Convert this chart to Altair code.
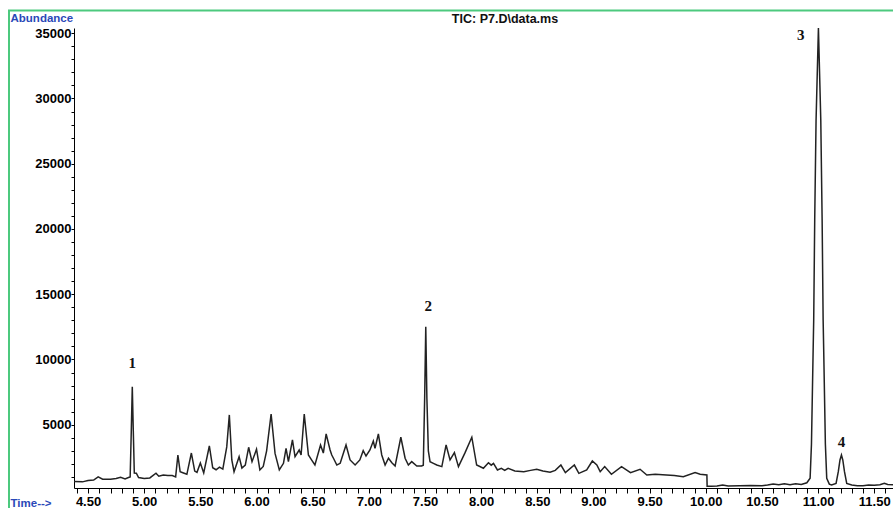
import altair as alt
import pandas as pd

# Retention time (min) and abundance
times = [
    4.375, 4.45, 4.50, 4.55, 4.59, 4.63, 4.70, 4.75, 4.79, 4.83, 4.86, 4.875, 4.885, 4.894, 4.903,
    4.912, 4.93, 4.95, 5.00, 5.05, 5.105, 5.13, 5.17, 5.21, 5.25, 5.28,
    5.30, 5.32, 5.35, 5.38, 5.42, 5.45, 5.47, 5.50, 5.53, 5.58, 5.61, 5.64, 5.67, 5.70, 5.735,
    5.758, 5.78, 5.80, 5.845, 5.87, 5.90, 5.93, 5.96, 6.00, 6.03, 6.06, 6.09, 6.13, 6.165, 6.203,
    6.24, 6.263, 6.284, 6.32, 6.343, 6.38, 6.397, 6.425, 6.462, 6.49, 6.52, 6.57, 6.595, 6.62,
    6.655, 6.67, 6.685, 6.715, 6.745, 6.797, 6.833, 6.878, 6.92, 6.95, 6.975, 7.01, 7.04, 7.055,
    7.085, 7.115, 7.145, 7.175, 7.205, 7.234, 7.285, 7.323, 7.352, 7.382, 7.427, 7.47, 7.485,
    7.497, 7.507, 7.517, 7.53, 7.545, 7.575, 7.605, 7.65, 7.688, 7.723, 7.762, 7.798, 7.857,
    7.917, 7.96, 8.02, 8.065, 8.09, 8.11, 8.145, 8.18, 8.21, 8.24, 8.30, 8.38, 8.44, 8.495, 8.55,
    8.614, 8.66, 8.71, 8.75, 8.83, 8.87, 8.94, 8.99, 9.03, 9.06, 9.10, 9.16, 9.25, 9.33, 9.415,
    9.475, 9.55, 9.65, 9.72, 9.80, 9.905, 9.95, 10.01, 10.012, 10.05, 10.10, 10.15, 10.20, 10.30,
    10.40, 10.50, 10.55, 10.60, 10.65, 10.70, 10.75, 10.80, 10.85, 10.90, 10.929, 10.941,
    10.956, 10.961, 10.970, 10.982, 11.003, 11.024, 11.036, 11.045, 11.050, 11.065, 11.077,
    11.10, 11.12, 11.16, 11.18, 11.195, 11.208, 11.22, 11.235, 11.255, 11.30, 11.35, 11.40,
    11.45, 11.50, 11.55, 11.59, 11.62, 11.667,
]
abundance = [
    640, 620, 720, 760, 1000, 820, 830, 880, 970, 850, 950, 1000, 4500, 7900, 4500,
    1300, 1280, 950, 880, 920, 1280, 1050, 1150, 1100, 1100, 1000,
    2680, 1400, 1300, 1200, 2830, 1450, 1350, 2070, 1300, 3370, 1700, 1550, 1750, 1600, 3300,
    5750, 2300, 1400, 2550, 1680, 1900, 3270, 2170, 3120, 1530, 1800, 3000, 5820, 2800, 1530,
    2040, 3190, 2170, 3830, 2550, 3060, 2680, 5820, 2680, 2300, 1910, 3450, 2830, 4290,
    3060, 2680, 2430, 1910, 2040, 3450, 2300, 1910, 2300, 3010, 2600, 3060, 3750, 3190,
    4290, 2680, 1910, 2430, 2090, 1840, 4040, 2430, 1910, 2170, 1840, 1840, 1900,
    7000, 12510, 7000, 3000, 2170, 2040, 1910, 1790, 3450, 2300, 2860, 1790, 2860,
    4040, 1910, 1660, 2090, 1900, 2040, 1530, 1660, 1500, 1660, 1455, 1400, 1500, 1585, 1450,
    1355, 1500, 1910, 1330, 1910, 1275, 1530, 2220, 1910, 1400, 1790, 1200, 1790, 1330, 1585,
    1150, 1200, 1150, 1100, 1020, 1330, 1200, 1150, 280, 280, 300, 380, 300, 330,
    340, 330, 380, 450, 400, 470, 400, 480, 420, 550, 900, 3500,
    10720, 13020, 20680, 28340, 35400, 28340, 20680, 13020, 10720, 3500, 900,
    450, 380, 500, 1400, 2300, 2680, 2300, 1400, 500, 380, 330, 330,
    380, 360, 400, 510, 420, 400,
]

# Peak number annotations
peak_labels = ["1", "2", "3", "4"]
peak_label_time = [4.894, 7.530, 10.846, 11.208]
peak_label_abund = [9700, 14120, 34860, 3700]

# Axis tick values
x_ticks = [round(4.4 + 0.1 * i, 1) for i in range(73)]
y_ticks = list(range(1000, 36000, 1000))

df = pd.DataFrame({"time": times, "abundance": abundance})
labels_df = pd.DataFrame({"label": peak_labels, "time": peak_label_time, "abundance": peak_label_abund})

FONT = "Liberation Sans"
BLUE = "#2a48b8"

x_scale = alt.Scale(domain=[4.375, 11.667], nice=False, zero=False)
y_scale = alt.Scale(domain=[150, 35400], nice=False, zero=False)

line = alt.Chart(df).mark_line(color="#222222", strokeWidth=1.5, clip=False).encode(
    x=alt.X(
        "time:Q",
        scale=x_scale,
        axis=alt.Axis(
            values=x_ticks,
            tickCount=200,
            labelExpr="round(datum.value*100) % 50 === 0 ? format(datum.value, '.2f') : ''",
            labelOverlap=False,
            labelFlush=False,
            grid=False,
            domainColor="black",
            tickColor="black",
            tickSize=5,
            labelPadding=2,
            labelFont=FONT,
            labelFontSize=13,
            labelFontWeight="bold",
            labelColor="black",
            title="Time-->",
            titleFont=FONT,
            titleFontSize=11.5,
            titleFontWeight="bold",
            titleColor=BLUE,
            titleAnchor="start",
            titleAlign="left",
            titleBaseline="middle",
            titleX=-64,
            titleY=15,
        ),
    ),
    y=alt.Y(
        "abundance:Q",
        scale=y_scale,
        axis=alt.Axis(
            values=y_ticks,
            tickCount=200,
            format="d",
            labelExpr="datum.value % 5000 === 0 ? datum.label : ''",
            labelOverlap=False,
            labelFlush=False,
            grid=False,
            domainColor="black",
            tickColor="black",
            tickSize=3,
            labelPadding=0,
            labelFont=FONT,
            labelFontSize=13,
            labelFontWeight="bold",
            labelColor="black",
            title="Abundance",
            titleFont=FONT,
            titleFontSize=11.5,
            titleFontWeight="bold",
            titleColor=BLUE,
            titleAngle=0,
            titleAlign="left",
            titleBaseline="middle",
            titleX=-64,
            titleY=-10,
        ),
    ),
)

peaks = alt.Chart(labels_df).mark_text(
    font="Liberation Serif", fontSize=15, fontWeight="bold", color="#111111",
    baseline="middle", align="center", clip=False,
).encode(
    x=alt.X("time:Q", scale=x_scale),
    y=alt.Y("abundance:Q", scale=y_scale),
    text="label:N",
)

title = alt.Chart(pd.DataFrame({"t": ["TIC: P7.D\\data.ms"]})).mark_text(
    font=FONT, fontSize=12.5, fontWeight="bold", color="#111111",
    align="center", baseline="middle",
).encode(
    x=alt.value(431), y=alt.value(-9), text="t:N",
)

frame = alt.Chart(pd.DataFrame({"a": [0]})).mark_rect(
    fill=None, fillOpacity=0, stroke="#4cc97e", strokeWidth=2, clip=False,
).encode(
    x=alt.value(-65), x2=alt.value(900), y=alt.value(-17.5), y2=alt.value(520),
)

chart = alt.layer(frame, line, peaks, title).properties(
    width=819,
    height=460,
    autosize=alt.AutoSizeParams(type="none"),
    padding={"left": 74, "top": 28, "right": 0, "bottom": 20},
    background="white",
).configure_view(stroke=None)

chart.save("out.html", embed_options={"renderer": "svg", "actions": False})
